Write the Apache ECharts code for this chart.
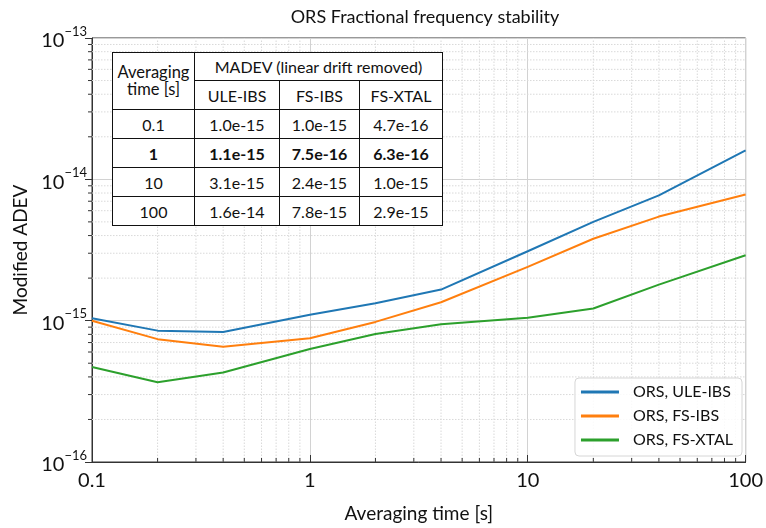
<!DOCTYPE html>
<html>
<head>
<meta charset="utf-8">
<script src="https://cdn.jsdelivr.net/npm/echarts@6/dist/echarts.min.js"></script>
<style>
  html, body { margin: 0; padding: 0; background: #fff; }
  #wrap { position: relative; width: 766px; height: 528px; }
  #chart { position: absolute; left: 0; top: 0; width: 766px; height: 528px; }
  #tbl {
    position: absolute; left: 112px; top: 52px; width: 330px; height: 174px;
    border-collapse: collapse; table-layout: fixed; background: #fff;
    font-family: Lato, "Noto Sans", sans-serif; font-size: 16px; color: #111;
  }
  #tbl td { border: 1.5px solid #111; text-align: center; padding: 0; line-height: 17px; }
  #tbl tr.bold td { font-weight: bold; }
</style>
</head>
<body>
<div id="wrap">
  <div id="chart"></div>
  <table id="tbl">
    <colgroup><col style="width:82px"><col style="width:85px"><col style="width:80px"><col style="width:83px"></colgroup>
    <tbody id="tbody"></tbody>
  </table>
</div>
<script>
// ---- data ----
var taus = [0.1, 0.2, 0.4, 1, 2, 4, 10, 20, 40, 100];
var uleIbs = [1.04e-15, 8.5e-16, 8.3e-16, 1.1e-15, 1.33e-15, 1.66e-15, 3.1e-15, 5.0e-15, 7.7e-15, 1.6e-14];
var fsIbs = [1.0e-15, 7.4e-16, 6.55e-16, 7.5e-16, 9.8e-16, 1.35e-15, 2.4e-15, 3.8e-15, 5.45e-15, 7.8e-15];
var fsXtal = [4.7e-16, 3.67e-16, 4.3e-16, 6.3e-16, 8.05e-16, 9.45e-16, 1.05e-15, 1.22e-15, 1.8e-15, 2.9e-15];
var seriesNames = ['ORS, ULE-IBS', 'ORS, FS-IBS', 'ORS, FS-XTAL'];

var xTickLabels = [0.1, 1, 10, 100];
var yTickExps = [-16, -15, -14, -13];
var xMinorTicks = [0.2, 0.3, 0.4, 0.5, 0.6, 0.7, 0.8, 0.9, 2, 3, 4, 5, 6, 7, 8, 9, 20, 30, 40, 50, 60, 70, 80, 90];
var yMinorTicks = [2e-16, 3e-16, 4e-16, 5e-16, 6e-16, 7e-16, 8e-16, 9e-16,
                   2e-15, 3e-15, 4e-15, 5e-15, 6e-15, 7e-15, 8e-15, 9e-15,
                   2e-14, 3e-14, 4e-14, 5e-14, 6e-14, 7e-14, 8e-14, 9e-14];

// table
var tableHeader = ['Averaging time [s]', 'MADEV (linear drift removed)'];
var tableCols = ['ULE-IBS', 'FS-IBS', 'FS-XTAL'];
var tableTaus = ['0.1', '1', '10', '100'];
var tableUle = ['1.0e-15', '1.1e-15', '3.1e-15', '1.6e-14'];
var tableFsIbs = ['1.0e-15', '7.5e-16', '2.4e-15', '7.8e-15'];
var tableFsXtal = ['4.7e-16', '6.3e-16', '1.0e-15', '2.9e-15'];
var tableBoldRow = '1';

// ---- build table ----
(function () {
  var tb = document.getElementById('tbody');
  var h = '<tr style="height:28px"><td rowspan="2" style="font-size:16.5px">' + tableHeader[0].replace(' time', '<br>time') + '</td><td colspan="3">' + tableHeader[1] + '</td></tr>';
  h += '<tr style="height:29px">' + tableCols.map(function (c) { return '<td>' + c + '</td>'; }).join('') + '</tr>';
  for (var i = 0; i < tableTaus.length; i++) {
    h += '<tr style="height:29px"' + (tableTaus[i] === tableBoldRow ? ' class="bold"' : '') + '><td>' + tableTaus[i] + '</td><td>' + tableUle[i] + '</td><td>' + tableFsIbs[i] + '</td><td>' + tableFsXtal[i] + '</td></tr>';
  }
  tb.innerHTML = h;
})();

// ---- chart ----
var FONT = 'Lato, "Noto Sans", sans-serif';
var TXT = '#111';
var chart = echarts.init(document.getElementById('chart'), null, { renderer: 'canvas' });
var X_MIN = 0.1, X_MAX = 100, Y_MIN = 1e-16, Y_MAX = 1e-13;

function pairs(vals) { return taus.map(function (t, i) { return [t, vals[i]]; }); }

var colors = ['#1f77b4', '#ff7f0e', '#2ca02c'];

var option = {
  animation: false,
  backgroundColor: '#fff',
  title: {
    text: 'ORS Fractional frequency stability',
    left: 420, top: 3, textAlign: 'center',
    textStyle: { fontFamily: FONT, fontSize: 18, fontWeight: 'normal', color: TXT }
  },
  grid: {
    left: 92, right: 17, top: 38, bottom: 65,
    show: true, borderColor: '#333', borderWidth: 1, backgroundColor: 'transparent'
  },
  legend: {
    data: seriesNames,
    orient: 'vertical',
    right: 24, bottom: 72,
    icon: 'rect', itemWidth: 38, itemHeight: 3, itemGap: 8,
    padding: [6, 9, 8, 6],
    backgroundColor: 'rgba(255,255,255,0.85)',
    borderColor: '#d6d6d6', borderWidth: 1, borderRadius: 4,
    textStyle: { fontFamily: FONT, fontSize: 16, color: TXT, padding: [0, 0, 0, 9] },
    z: 20
  },
  xAxis: {
    type: 'log', logBase: 10, min: X_MIN, max: X_MAX,
    name: 'Averaging time [s]', nameLocation: 'middle', nameGap: 42,
    nameTextStyle: { fontFamily: FONT, fontSize: 19, color: TXT },
    axisLine: { show: true, lineStyle: { color: '#333', width: 1 } },
    axisTick: { show: true, inside: true, length: 7, lineStyle: { color: '#333' } },
    axisLabel: {
      fontFamily: FONT, fontSize: 20, color: TXT, margin: 9,
      formatter: function (v) {
        for (var i = 0; i < xTickLabels.length; i++) {
          if (Math.abs(v - xTickLabels[i]) / xTickLabels[i] < 1e-6) return String(xTickLabels[i]);
        }
        return '';
      }
    },
    splitLine: { show: true, lineStyle: { color: '#d2d2d2', width: 1 } }
  },
  yAxis: {
    type: 'log', logBase: 10, min: Y_MIN, max: Y_MAX,
    name: 'Modified ADEV', nameLocation: 'middle', nameGap: 62,
    nameTextStyle: { fontFamily: FONT, fontSize: 19, color: TXT },
    axisLine: { show: true, lineStyle: { color: '#333', width: 1 } },
    axisTick: { show: true, inside: false, length: 7, lineStyle: { color: '#333' } },
    axisLabel: {
      fontFamily: FONT, fontSize: 20, color: TXT, margin: 5,
      formatter: function (v) {
        var e = Math.round(Math.log10(v));
        if (yTickExps.indexOf(e) < 0) return '';
        return '{b|10}{s|\u2212' + (-e) + '}';
      },
      rich: {
        b: { fontFamily: FONT, fontSize: 20, color: TXT, lineHeight: 26, verticalAlign: 'bottom' },
        s: { fontFamily: FONT, fontSize: 13, color: TXT, lineHeight: 13, verticalAlign: 'top' }
      }
    },
    splitLine: { show: true, lineStyle: { color: '#d2d2d2', width: 1 } }
  },
  series: [
    {
      type: 'custom', name: 'minorX', silent: true, z: 1,
      data: xMinorTicks.map(function (v) { return [v, Y_MIN]; }),
      renderItem: function (params, api) {
        var p1 = api.coord([api.value(0), Y_MIN]);
        var p2 = api.coord([api.value(0), Y_MAX]);
        return { type: 'group', children: [
          { type: 'line', shape: { x1: p1[0], y1: p1[1], x2: p2[0], y2: p2[1] },
            style: { stroke: '#d9d9d9', lineWidth: 1, lineDash: [1.5, 1.5] } },
          { type: 'line', shape: { x1: p1[0], y1: p1[1], x2: p1[0], y2: p1[1] - 4 },
            style: { stroke: '#333', lineWidth: 1 } }
        ] };
      },
      clip: false
    },
    {
      type: 'custom', name: 'minorY', silent: true, z: 1,
      data: yMinorTicks.map(function (v) { return [X_MIN, v]; }),
      renderItem: function (params, api) {
        var p1 = api.coord([X_MIN, api.value(1)]);
        var p2 = api.coord([X_MAX, api.value(1)]);
        return { type: 'group', children: [
          { type: 'line', shape: { x1: p1[0], y1: p1[1], x2: p2[0], y2: p2[1] },
            style: { stroke: '#d9d9d9', lineWidth: 1, lineDash: [1.5, 1.5] } },
          { type: 'line', shape: { x1: p1[0], y1: p1[1], x2: p1[0] - 4, y2: p1[1] },
            style: { stroke: '#333', lineWidth: 1 } }
        ] };
      },
      clip: false
    },
    { type: 'line', name: seriesNames[0], data: pairs(uleIbs), showSymbol: false, color: colors[0], lineStyle: { width: 2, color: colors[0] }, z: 5 },
    { type: 'line', name: seriesNames[1], data: pairs(fsIbs), showSymbol: false, color: colors[1], lineStyle: { width: 2, color: colors[1] }, z: 5 },
    { type: 'line', name: seriesNames[2], data: pairs(fsXtal), showSymbol: false, color: colors[2], lineStyle: { width: 2, color: colors[2] }, z: 5 }
  ]
};
chart.setOption(option);
</script>
</body>
</html>
